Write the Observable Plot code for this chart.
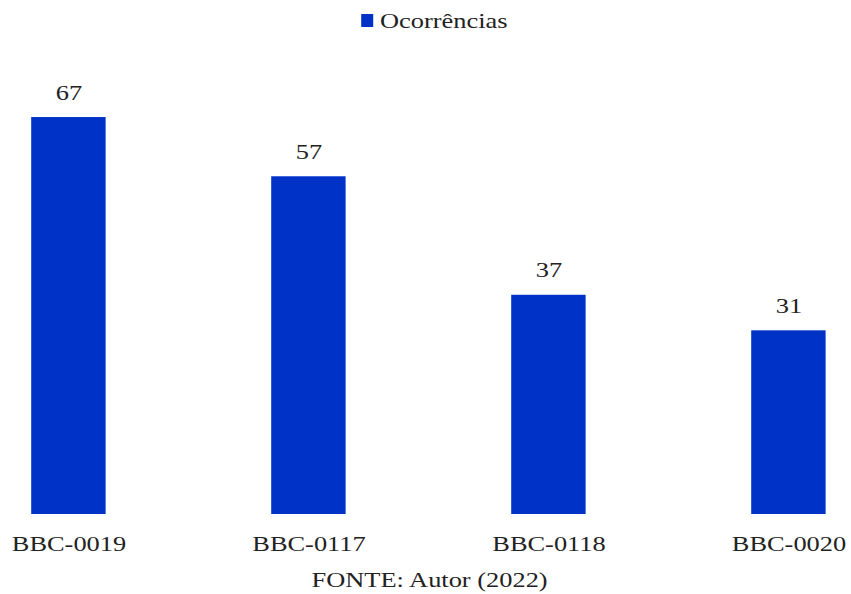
<!DOCTYPE html>
<html>
<head>
<meta charset="utf-8">
<script src="https://cdn.jsdelivr.net/npm/d3@7"></script>
<script src="https://cdn.jsdelivr.net/npm/@observablehq/plot@0.6"></script>
<style>
  html, body { margin: 0; padding: 0; background: #fff; }
  #wrap { position: absolute; left: 0; top: 0; width: 709px; height: 594px;
          transform: scaleX(1.2); transform-origin: 0 0;
          font-family: "Liberation Serif", "Times New Roman", serif; color: #222; }
  #legend { position: absolute; top: 9.6px; left: 0; width: 709px; height: 22px; font-size: 22px; line-height: 22px; }
  #legend .sw { position: absolute; left: 300.8px; top: 4.4px; width: 10.5px; height: 12.7px; background: #0032C8; }
  #legend .lb { position: absolute; left: 316.7px; top: 0; white-space: nowrap; }
  #chart { position: absolute; left: 0; top: 40px; }
  #caption { position: absolute; left: 0; top: 569px; width: 709px; text-align: center; font-size: 22px; line-height: 22px; padding-left: 7px; box-sizing: border-box; }
</style>
</head>
<body>
<div id="wrap">
  <div id="legend"><span class="sw"></span><span class="lb">Ocorrências</span></div>
  <div id="chart"></div>
  <div id="caption">FONTE: Autor (2022)</div>
</div>
<script>
const categories = ["BBC-0019", "BBC-0117", "BBC-0118", "BBC-0020"];
const values = [67, 57, 37, 31];
const seriesName = "Ocorrências";

const data = categories.map((c, i) => ({category: c, value: values[i]}));

const chart = Plot.plot({
  width: 709,
  height: 520,
  marginLeft: 25.8,
  marginRight: 19.4,
  marginTop: 0,
  marginBottom: 46,
  style: {fontFamily: "'Liberation Serif', 'Times New Roman', serif", fontSize: "22px", color: "#222", background: "transparent"},
  x: {domain: categories, paddingInner: 0.688, paddingOuter: 0, label: null},
  y: {domain: [0, 80], axis: null},
  marks: [
    Plot.barY(data, {x: "category", y: "value", fill: "#0032C8"}),
    Plot.text(data, {x: "category", y: "value", text: d => String(d.value), dy: -25, fontSize: 22, fill: "#222"}),
    Plot.axisX({tickSize: 0, tickPadding: 21, fontSize: 22, fill: "#222", label: null})
  ]
});
document.getElementById("chart").appendChild(chart);
</script>
</body>
</html>
